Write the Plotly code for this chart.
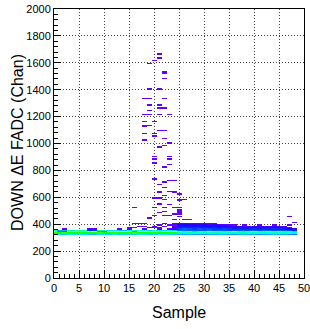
import colorsys
import plotly.graph_objects as go

# ---------------- data ----------------
samples = list(range(49))  # sample index (x bins centred on integers)
y_bin = 10                 # chan per y bin
y_max = 2000

# dense baseline band: counts per sample in the given y bin (chan lower edge)
band_320 = [30, 32, 28, 34, 30, 29, 33, 28, 27, 30, 32, 28, 34, 30, 31, 28, 30, 33, 31, 28, 30, 32, 33, 30, 28,
            26, 24, 27, 25, 24, 22, 25, 24, 27, 25, 24, 22, 25, 27, 24, 25, 22, 24, 25, 27, 24, 25, 22, 20]
band_330 = [58, 55, 60, 57, 54, 59, 53, 56, 58, 60, 57, 55, 59, 56, 54, 58, 60, 56, 55, 57, 59, 54, 56, 58, 55,
            40, 38, 42, 39, 37, 40, 38, 41, 39, 37, 40, 38, 39, 41, 37, 40, 38, 39, 37, 40, 38, 39, 37, 34]
band_340 = [70, 96, 100, 82, 78, 72, 68, 70, 74, 92, 96, 72, 70, 78, 74, 72, 94, 76, 72, 70, 68, 72, 70, 74, 70,
            66, 62, 68, 88, 66, 64, 68, 66, 64, 62, 66, 70, 64, 62, 66, 68, 64, 84, 66, 64, 68, 62, 64, 58]
band_350 = [38, 24, 26, 40, 42, 42, 38, 14, 16, 40, 36, 30, 32, 28, 26, 34, 38, 36, 32, 30, 34, 32, 30, 32, 28,
            18, 20, 17, 19, 16, 18, 20, 17, 19, 18, 16, 18, 17, 19, 16, 18, 17, 19, 18, 16, 17, 18, 16, 14]
band_360 = [0, 0, 1, 0, 0, 0, 0, 2, 1, 0, 0, 0, 0, 1, 0, 2, 0, 0, 1, 0, 0, 2, 0, 1, 3,
            16, 18, 17, 15, 18, 16, 17, 15, 14, 16, 15, 13, 14, 12, 13, 14, 12, 13, 12, 14, 13, 11, 8, 4]
band_370 = [0, 0, 0, 0, 0, 0, 0, 0, 0, 0, 0, 0, 0, 0, 0, 0, 1, 0, 0, 2, 0, 1, 0, 0, 2,
            13, 14, 12, 15, 13, 14, 12, 13, 11, 12, 11, 9, 10, 9, 11, 9, 10, 8, 9, 10, 8, 5, 3, 0]
band_380 = [0, 0, 0, 0, 0, 0, 0, 0, 0, 0, 0, 0, 0, 0, 0, 0, 0, 0, 0, 0, 1, 0, 1, 0, 2,
            9, 11, 10, 8, 11, 9, 8, 10, 7, 8, 6, 4, 5, 3, 4, 3, 4, 2, 3, 4, 2, 2, 0, 0]
band_390 = [0, 0, 0, 0, 0, 0, 0, 0, 0, 0, 0, 0, 0, 0, 0, 0, 0, 0, 0, 0, 0, 1, 0, 1, 1,
            6, 7, 5, 6, 5, 6, 4, 5, 3, 2, 1, 1, 0, 1, 0, 0, 1, 0, 0, 1, 0, 0, 0, 0]
band_400 = [0, 0, 0, 0, 0, 0, 0, 0, 0, 0, 0, 0, 0, 0, 0, 0, 0, 0, 0, 0, 0, 0, 1, 0, 1,
            3, 4, 2, 3, 2, 1, 1, 1, 0, 0, 0, 0, 0, 0, 0, 0, 0, 0, 0, 0, 0, 0, 0, 0]
band_rows = {320: band_320, 330: band_330, 340: band_340, 350: band_350, 360: band_360,
             370: band_370, 380: band_380, 390: band_390, 400: band_400}

# sparse single entries (sample, chan)
sparse_x = [21, 21, 20, 19, 22, 22, 22, 19, 21, 18, 19, 22, 19, 21, 21, 22, 19, 21, 18, 19, 23,
            18, 20, 18, 18, 19, 21, 22, 18, 20, 20, 18, 22, 23, 22, 21, 20, 23, 20, 23, 20, 23, 22,
            20, 22, 23, 24, 21, 22, 21, 21, 23, 24, 22, 24, 20, 21, 22, 25, 25, 21, 20, 22, 23, 24,
            25, 21, 22, 25, 23, 20, 22, 19, 25, 24, 25, 26, 21, 16, 17, 18, 16, 17, 18, 19, 20, 15,
            24, 24, 24, 25, 24, 25, 25, 26, 26, 27, 26, 27, 47, 47, 48, 26, 27]
sparse_y = [1660, 1635, 1610, 1595, 1530, 1525, 1485, 1400, 1405, 1338, 1330, 1338, 1286, 1280, 1264,
            1264, 1242, 1219, 1212, 1212, 1212, 1167, 1160, 1137, 1125, 1137, 1093, 1093, 1078, 1070,
            1050, 1026, 1033, 1004, 981, 974, 907, 907, 885, 885, 855, 848, 825, 736, 714, 729, 729,
            691, 677, 647, 635, 640, 640, 617, 632, 595, 595, 580, 580, 570, 558, 528, 528, 543, 520,
            520, 483, 490, 483, 468, 468, 461, 446, 450, 721, 625, 587, 543, 520, 409, 409, 409, 387,
            387, 379, 372, 372, 372, 431, 431, 500, 470, 490, 470, 431, 431, 431, 431, 394, 394, 453,
            412]

x_ticks = [0, 5, 10, 15, 20, 25, 30, 35, 40, 45, 50]
y_ticks = [0, 200, 400, 600, 800, 1000, 1200, 1400, 1600, 1800, 2000]

# ---------------- build histogram table ----------------
n_y = y_max // y_bin
n_x = 50
counts = [[0] * n_x for _ in range(n_y)]
for chan, row in band_rows.items():
    for s, c in zip(samples, row):
        counts[chan // y_bin][s] += c
for s, chan in zip(sparse_x, sparse_y):
    counts[chan // y_bin][s] += 1
z = [[(c if c > 0 else None) for c in row] for row in counts]
x_centres = list(range(n_x))
y_centres = [k * y_bin + y_bin / 2 for k in range(n_y)]
zmax = max(max(r) for r in counts)

# ROOT-like rainbow palette: HLS hue from violet down to red
scale = []
nst = 15
for i in range(nst):
    f = i / (nst - 1)
    hue = (266.0 - 266.0 * f) / 360.0
    r, g, b = colorsys.hls_to_rgb(hue, 0.5, 1.0)
    scale.append([f, f"rgb({int(r*255)},{int(g*255)},{int(b*255)})"])

fig = go.Figure(go.Heatmap(
    x=x_centres, y=y_centres, z=z, zmin=0, zmax=zmax,
    colorscale=scale, showscale=False, hoverongaps=False,
))

font = dict(family="Liberation Sans, Arial, sans-serif", color="black")
axis_common = dict(
    showline=True, linecolor="black", linewidth=1, mirror=True,
    ticks="inside", tickcolor="black", tickwidth=1,
    showgrid=True, gridcolor="#444444", griddash="1px,2px", gridwidth=1,
    zeroline=False, tickfont=dict(size=11, **font), automargin=False,
    ticklabeloverflow="allow",
)
fig.update_xaxes(range=[0, 50], tickvals=x_ticks, ticklen=8,
                 minor=dict(dtick=1, ticks="inside", ticklen=4, tickcolor="black", showgrid=False),
                 **axis_common)
fig.update_yaxes(range=[0, 2000], tickvals=y_ticks, ticklen=7,
                 minor=dict(dtick=40, ticks="inside", ticklen=4, tickcolor="black", showgrid=False),
                 **axis_common)

fig.update_layout(
    width=310, height=329,
    margin=dict(l=54, r=6, t=9, b=51),
    paper_bgcolor="white", plot_bgcolor="white",
    showlegend=False,
    annotations=[
        dict(text="Sample", xref="paper", yref="paper", x=0.5, y=-0.130,
             xanchor="center", yanchor="middle", showarrow=False, font=dict(size=16, **font)),
        dict(text="DOWN ΔE FADC (Chan)", xref="paper", yref="paper", x=-0.144, y=0.502,
             xanchor="center", yanchor="middle", textangle=-90, showarrow=False,
             font=dict(size=16, **font)),
    ],
)
fig.write_html("out.html", config={"displayModeBar": False},
               post_script="document.body.style.margin='0';document.body.style.overflow='hidden';")
